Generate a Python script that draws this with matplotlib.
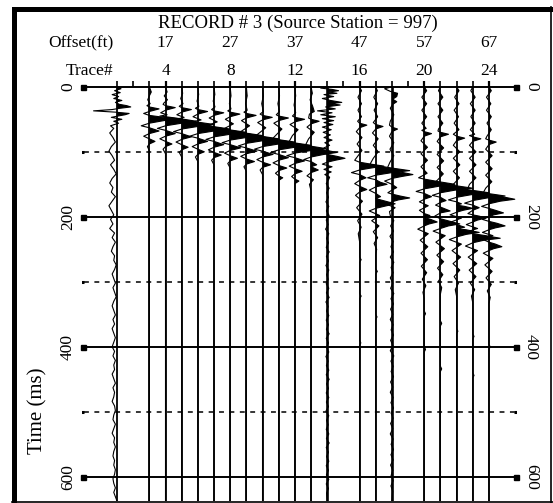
import matplotlib
matplotlib.use("Agg")
import matplotlib.pyplot as plt
import numpy as np

# ---------------- data ----------------
TITLE = "RECORD # 3 (Source Station = 997)"
LABEL_TRACES = [4, 8, 12, 16, 20, 24]
OFFSET_LABELS = ["17", "27", "37", "47", "57", "67"]
TRACE_LABELS = ["4", "8", "12", "16", "20", "24"]
ALL_TRACES = list(range(1, 25))
DEAD_TRACES = [2, 15, 19]
BOLD_TRACES = [14, 18]
TIME_TICKS = [0, 200, 400, 600]
TIME_DASHED = [100, 300, 500]

# wiggle vertices per trace: (time ms, amplitude in trace spacings)
TR01 = [(0, 0), (3, 0.25), (6, -0.15), (9, 0.2), (12, -0.3), (15, 0.1), (18, -0.2), (21, 0.3),
        (24, -0.1), (27, 0.15), (29, 0.6), (31, 0.85), (33, 0.2), (35, -0.3), (37, -1.45), (39, -0.1),
        (41, 0.75), (43, 0.5), (45, 0.05), (47, -0.35), (50, 0.3), (53, -0.2), (56, 0.1), (60, -0.4)]
TR01_TAIL = (64, 7, [-0.2, -0.45, -0.25, -0.1, -0.35, -0.5, -0.3, -0.15, -0.4, -0.2, -0.05, -0.3,
                     -0.45, -0.25, -0.35, -0.1, -0.3, -0.5, -0.35, -0.2, -0.4, -0.25, -0.45, -0.15,
                     -0.3, -0.1, -0.25, -0.35, -0.15, -0.2, -0.05, -0.15, -0.3, -0.2, -0.1, -0.25,
                     -0.15, -0.05, -0.2, -0.3, -0.2, -0.1, -0.25, -0.15, -0.3, -0.2, -0.1, -0.2,
                     -0.3, -0.15, -0.25, -0.1, -0.2, -0.15, -0.3, -0.2, -0.1, -0.25, -0.15, -0.2,
                     -0.3, -0.15, -0.1, -0.2, -0.25, -0.1, -0.2, -0.3, -0.15, -0.2, -0.1, -0.2,
                     -0.25, -0.15, -0.2, -0.1, -0.15, -0.25, -0.2, -0.1, -0.2])
TR03 = [(0, 0), (8, 0.12), (14, 0), (20, -0.1), (26, 0.05), (29, -0.15), (31, 0), (34, 0.6), (38, 0),
        (41, -0.35), (44, 0), (47, 0.9), (49, 1.8), (52, 0.9), (56, 0), (60, -0.5), (63, 0),
        (68, 0.6), (72, 0), (76, -0.35), (80, 0), (84, 0.35), (88, 0), (92, -0.12), (98, 0)]
TR04 = [(0, 0), (8, 0.1), (14, -0.08), (20, 0.12), (25, -0.1), (27, -0.15), (29, 0), (32, 0.6),
        (36, 0), (40, -0.3), (43, 0.1), (45, -0.35), (46, 0), (49, 0.9), (53, 1.9), (56, 1.0),
        (60, 0), (64, -0.5), (67, 0), (72, 0.6), (76, 0), (80, -0.35), (84, 0), (88, 0.4), (92, 0),
        (96, -0.15), (103, 0)]
TR05 = [(0, 0), (10, 0.06), (18, -0.06), (26, 0.08), (30, -0.15), (32, 0), (35, 0.6), (39, 0),
        (43, -0.3), (47, 0.15), (50, -0.35), (51, 0), (54, 0.9), (58, 2.0), (61, 1.0), (65, 0),
        (69, -0.5), (72, 0), (77, 0.6), (81, 0), (85, -0.35), (89, 0), (93, 0.4), (97, 0),
        (101, -0.15), (108, 0)]
TR06 = [(0, 0), (12, 0.05), (22, -0.05), (30, 0.06), (33, -0.15), (35, 0), (38, 0.6), (42, 0),
        (46, -0.3), (51, 0.2), (54, -0.35), (57, 0), (61, 0.9), (65, 2.0), (68, 1.0), (72, 0),
        (76, -0.5), (79, 0), (84, 0.6), (88, 0), (92, -0.35), (96, 0), (100, 0.4), (104, 0),
        (108, -0.15), (115, 0)]
TR07 = [(0, 0), (12, 0.05), (22, -0.05), (31, 0.06), (35, -0.15), (37, 0), (40, 0.6), (44, 0),
        (48, -0.3), (54, 0.2), (59, -0.35), (62, 0), (66, 0.9), (70, 2.0), (73, 1.0), (77, 0),
        (81, -0.5), (84, 0), (89, 0.6), (93, 0), (97, -0.35), (101, 0), (105, 0.45), (109, 0),
        (113, -0.15), (120, 0)]
TR08 = [(0, 0), (14, 0.05), (26, -0.05), (34, 0.05), (37, -0.15), (39, 0), (42, 0.6), (46, 0),
        (50, -0.3), (57, 0.2), (64, -0.35), (67, 0), (71, 0.9), (75, 2.0), (78, 1.0), (82, 0),
        (86, -0.5), (89, 0), (94, 0.65), (98, 0), (102, -0.35), (106, 0), (110, 0.45), (114, 0),
        (118, -0.15), (125, 0)]
TR09 = [(0, 0), (14, 0.05), (26, -0.05), (36, 0.05), (39, -0.15), (41, 0), (44, 0.6), (48, 0),
        (52, -0.3), (60, 0.2), (69, -0.35), (72, 0), (76, 0.9), (80, 2.0), (83, 1.0), (87, 0),
        (91, -0.5), (94, 0), (99, 0.65), (103, 0), (107, -0.35), (111, 0), (115, 0.5), (119, 0),
        (123, -0.15), (130, 0)]
TR10 = [(0, 0), (14, 0.05), (26, -0.05), (38, 0.05), (42, -0.15), (44, 0), (47, 0.6), (51, 0),
        (55, -0.3), (63, 0.2), (74, -0.35), (77, 0), (81, 0.9), (85, 2.0), (88, 1.0), (92, 0),
        (96, -0.5), (99, 0), (104, 0.65), (108, 0), (112, -0.35), (116, 0), (120, 0.5), (124, 0),
        (128, -0.15), (135, 0)]
TR11 = [(0, 0), (14, 0.05), (26, -0.05), (38, 0.05), (43, -0.15), (45, 0), (48, 0.6), (52, 0),
        (56, -0.3), (65, 0.2), (79, -0.35), (82, 0), (86, 0.9), (90, 2.0), (93, 1.0), (97, 0),
        (101, -0.5), (104, 0), (109, 0.6), (113, 0), (117, -0.35), (121, 0), (125, 0.5), (129, 0),
        (133, -0.2), (137, 0), (140, 0.25), (144, 0), (150, 0)]
TR12 = [(0, 0), (14, 0.05), (28, -0.05), (40, 0.05), (45, -0.15), (47, 0), (50, 0.6), (54, 0),
        (58, -0.3), (66, 0.2), (75, -0.15), (84, -0.35), (87, 0), (91, 0.9), (95, 1.9), (98, 1.0),
        (102, 0), (106, -0.5), (109, 0), (114, 0.6), (118, 0), (122, -0.35), (126, 0), (130, 0.45),
        (134, 0), (138, -0.2), (142, 0), (145, 0.25), (149, 0), (155, 0)]
TR13 = [(0, 0), (10, 0.08), (20, -0.06), (30, 0.1), (38, 0.2), (42, -0.1), (48, -0.15), (50, 0),
        (53, 0.5), (57, 0), (62, -0.25), (70, 0.2), (80, -0.15), (90, -0.35), (93, 0), (97, 0.8),
        (101, 1.6), (104, 0.8), (108, 0), (112, -0.45), (115, 0), (120, 0.35), (123, 0), (128, 0.45),
        (132, 0), (137, -0.25), (143, 0.15), (150, -0.1), (160, 0)]
TR14 = [(0, 0), (2, -0.4), (4, 0.3), (6, 0.7), (8, 0.1), (10, 0.6), (12, -0.2), (15, 0.4), (18, -0.3),
        (21, 0.2), (24, 0.9), (26, 0.2), (28, 0.8), (31, -0.1), (34, 0.5), (37, -0.6), (40, 0.3),
        (43, -0.4), (46, 0.5), (49, -0.3), (52, 0.4), (55, -0.2), (58, 0.35), (62, -0.3), (66, 0.25),
        (70, -0.25), (74, 0.2), (78, -0.2), (82, 0.3), (86, -0.15), (90, 0.15), (94, -0.2), (98, 0.1),
        (101, -0.3), (104, 0), (107, 0.6), (110, 1.1), (113, 0.5), (116, 0), (119, -0.3), (123, 0.3),
        (127, -0.2), (131, 0.25), (135, -0.15), (139, 0.15)]
TR14_TAIL = (142, 7, [0.1, -0.06, 0.12, -0.04, 0.08, -0.08, 0.1, -0.05, 0.12, -0.06, 0.06, -0.1,
                      0.1, -0.04, 0.08, -0.06, 0.12, -0.05, 0.08, -0.08, 0.1, -0.04, 0.06, -0.06,
                      0.1, -0.05, 0.12, -0.08, 0.06, -0.04, 0.1, -0.06, 0.08, -0.05, 0.12, -0.06,
                      0.08, -0.04, 0.1, -0.08, 0.06, -0.05, 0.1, -0.06, 0.12, -0.04, 0.08, -0.06,
                      0.1, -0.05, 0.08, -0.08, 0.1, -0.04, 0.06, -0.06, 0.1, -0.05, 0.12, -0.06,
                      0.08, -0.04, 0.1, -0.06, 0.08, -0.05, 0.1, -0.06, 0.08, -0.04])
TR16 = [(0, 0), (6, 0.12), (16, -0.1), (26, 0.12), (36, -0.1), (46, 0.12), (53, -0.12), (56, 0),
        (59, 0.45), (63, 0), (69, -0.2), (78, 0.15), (88, -0.15), (98, 0.15), (108, -0.15),
        (113, -0.3), (116, 0), (119, 0.7), (122, 1.5), (125, 0.7), (128, 0), (132, -0.5), (135, 0),
        (140, 0.4), (144, 0), (149, -0.3), (153, 0), (158, 0.45), (162, 0), (167, -0.25),
        (176, 0.18), (186, -0.18), (196, 0.15), (206, -0.12), (216, 0.1), (226, -0.08), (238, 0),
        (262, 0), (266, 0.1), (270, 0), (318, 0), (322, 0.1), (326, 0), (390, 0), (394, 0.08),
        (398, 0)]
TR17 = [(0, 0), (6, 0.1), (16, -0.12), (26, 0.12), (36, -0.1), (46, 0.12), (55, -0.15), (58, 0),
        (61, 0.45), (65, 0), (71, -0.2), (80, 0.15), (90, -0.15), (100, 0.15), (110, -0.15),
        (119, -0.35), (121, 0), (125, 1.0), (129, 2.1), (132, 1.0), (136, 0), (140, -0.5), (143, 0),
        (147, 0.3), (150, 0.7), (154, 0), (159, -0.4), (164, 0), (169, 0.3), (172, 0), (176, 0.6),
        (180, 1.2), (184, 0.5), (187, 0), (191, -0.4), (198, 0.25), (206, -0.25), (214, 0.2),
        (223, -0.15), (232, 0.12), (241, -0.1), (250, 0.06), (258, 0), (280, 0), (284, 0.1),
        (288, 0), (350, 0), (354, 0.08), (358, 0)]
TR18 = [(0, 0), (3, -0.45), (7, -0.1), (10, 0.35), (15, 0.3), (19, 0.05), (23, 0.3), (27, 0.05),
        (33, -0.1), (43, 0.12), (53, -0.1), (59, -0.15), (62, 0), (65, 0.35), (69, 0), (76, -0.15),
        (86, 0.12), (96, -0.12), (106, 0.12), (116, -0.12), (126, -0.3), (129, 0), (132, 0.7),
        (135, 1.3), (138, 0.6), (141, 0), (145, -0.45), (150, 0), (155, 0.3), (159, 0), (163, -0.25),
        (165, 0), (168, 0.5), (171, 1.1), (174, 0.4), (177, 0), (181, -0.3), (186, 0.2),
        (192, -0.15)]
TR18_TAIL = (198, 8, [-0.1, 0.12, -0.08, 0.1, -0.12, 0.08, -0.06, 0.1, -0.1, 0.12, -0.05, 0.08,
                      -0.1, 0.06, -0.08, 0.12, -0.06, 0.1, -0.08, 0.06, -0.1, 0.08, -0.05, 0.1,
                      -0.08, 0.06, -0.1, 0.12, -0.06, 0.08, -0.05, 0.1, -0.08, 0.06, -0.1, 0.08,
                      -0.06, 0.1, -0.05, 0.08, -0.08, 0.06, -0.1, 0.08, -0.05, 0.1, -0.06, 0.08,
                      -0.08, 0.06, -0.05, 0.08, -0.06, 0.05])
TR20 = [(0, 0), (6, 0.15), (16, -0.15), (26, 0.15), (36, -0.15), (46, 0.15), (56, -0.15), (64, 0.12),
        (67, -0.15), (69, 0), (72, 0.45), (76, 0), (83, -0.2), (93, 0.2), (103, -0.2), (113, 0.2),
        (123, -0.2), (133, 0.18), (140, -0.35), (142, 0), (146, 0.9), (150, 1.9), (153, 0.9),
        (157, 0), (161, -0.5), (164, 0), (169, 0.45), (173, 0), (177, -0.3), (183, 0.25), (190, -0.3),
        (195, 0), (198, 0.35), (201, 0), (204, 0.4), (208, 0.8), (211, 0.3), (214, 0), (219, -0.4),
        (226, 0.25), (236, -0.25), (246, 0.22), (256, -0.2), (266, 0.2), (276, -0.18), (286, 0.15),
        (296, -0.12), (306, 0.1), (316, -0.08), (326, 0), (345, 0), (349, 0.08), (353, 0), (400, 0),
        (404, 0.08), (408, 0)]
TR21 = [(0, 0), (6, -0.12), (16, 0.15), (26, -0.15), (36, 0.15), (46, -0.15), (56, 0.15),
        (65, -0.12), (68, -0.15), (70, 0), (73, 0.5), (77, 0), (84, -0.2), (94, 0.2), (104, -0.2),
        (114, 0.2), (124, -0.2), (134, 0.18), (144, -0.2), (147, -0.35), (149, 0), (152, 0.9),
        (156, 2.0), (159, 0.9), (163, 0), (167, -0.5), (170, 0), (175, 0.35), (178, 0), (182, -0.3),
        (185, 0), (188, 0.3), (191, 0.6), (194, 0), (199, -0.35), (203, 0), (207, 0.6), (211, 1.2),
        (214, 0.5), (218, 0), (222, -0.45), (229, 0.3), (239, -0.28), (249, 0.25), (259, -0.22),
        (269, 0.2), (279, -0.18), (289, 0.15), (299, -0.12), (309, 0.08), (319, 0), (360, 0),
        (364, 0.08), (368, 0), (430, 0), (434, 0.08), (438, 0)]
TR22 = [(0, 0), (6, 0.15), (16, -0.12), (26, 0.15), (36, -0.15), (46, 0.12), (56, -0.15), (66, 0.15),
        (73, -0.2), (76, 0), (79, 0.5), (83, 0), (90, -0.2), (100, 0.2), (110, -0.2), (120, 0.2),
        (130, -0.2), (140, 0.18), (150, -0.2), (154, -0.35), (156, 0), (159, 0.9), (163, 2.0),
        (166, 0.9), (170, 0), (174, -0.5), (177, 0), (180, 0.3), (182, 0), (184, 0.5), (187, 1.0),
        (190, 0.4), (193, 0), (197, -0.4), (202, 0.3), (208, -0.35), (212, 0), (216, 0.5), (218, 0),
        (220, 0.6), (224, 1.4), (227, 0.6), (231, 0), (235, -0.45), (242, 0.3), (252, -0.28),
        (262, 0.25), (272, -0.22), (282, 0.2), (292, -0.15), (302, 0.12), (312, -0.08), (322, 0),
        (372, 0), (376, 0.08), (380, 0)]
TR23 = [(0, 0), (6, -0.12), (16, 0.15), (26, -0.15), (36, 0.15), (46, -0.12), (56, 0.15),
        (66, -0.15), (73, 0.12), (75, -0.2), (77, 0), (80, 0.5), (84, 0), (90, -0.2), (100, 0.2),
        (110, -0.2), (120, 0.2), (130, -0.2), (140, 0.2), (150, -0.2), (159, -0.35), (161, 0),
        (164, 0.9), (168, 2.0), (171, 0.9), (175, 0), (179, -0.5), (182, 0), (186, 0.4), (190, 0),
        (195, -0.3), (197, 0), (199, 0.4), (202, 0.8), (205, 0.3), (208, 0), (212, -0.4), (218, 0.3),
        (223, -0.35), (226, 0), (229, 0.8), (233, 1.7), (236, 0.7), (240, 0), (245, -0.45),
        (252, 0.3), (262, -0.28), (272, 0.25), (282, -0.22), (292, 0.2), (302, -0.15), (312, 0.12),
        (322, -0.08), (332, 0), (380, 0), (384, 0.08), (388, 0), (440, 0), (444, 0.08), (448, 0)]
TR24 = [(0, 0), (6, 0.15), (16, -0.15), (26, 0.12), (36, -0.15), (46, 0.15), (56, -0.12), (66, 0.15),
        (76, -0.12), (80, -0.2), (82, 0), (85, 0.45), (89, 0), (96, -0.2), (106, 0.2), (116, -0.2),
        (126, 0.2), (136, -0.2), (146, 0.18), (156, -0.2), (163, -0.35), (166, 0), (169, 0.8),
        (173, 1.6), (176, 0.7), (180, 0), (184, -0.45), (187, 0), (190, 0.4), (194, 0.9), (197, 0.3),
        (200, 0), (204, -0.4), (207, 0), (210, 0.5), (214, 1.0), (217, 0.4), (220, 0), (224, -0.4),
        (229, 0.25), (235, -0.35), (239, 0), (242, 0.4), (246, 0.8), (249, 0.3), (252, 0),
        (256, -0.35), (264, 0.25), (274, -0.25), (284, 0.2), (294, -0.18), (304, 0.15), (314, -0.1),
        (324, 0.08), (334, 0), (396, 0), (400, 0.08), (404, 0)]

WIGGLES = {1: TR01, 3: TR03, 4: TR04, 5: TR05, 6: TR06, 7: TR07, 8: TR08, 9: TR09, 10: TR10,
           11: TR11, 12: TR12, 13: TR13, 14: TR14, 16: TR16, 17: TR17, 18: TR18, 20: TR20,
           21: TR21, 22: TR22, 23: TR23, 24: TR24}
TAILS = {1: TR01_TAIL, 14: TR14_TAIL, 18: TR18_TAIL}

# ---------------- layout (pixels) ----------------
W, H = 553, 503
X_TR1, DX = 117.0, 16.17
Y_T0, PX_MS = 86.8, 0.650
AX_L, AX_R = 82.0, 517.0
T_TOP = -10.0
AX_B = 501.0
AX_T = Y_T0 + T_TOP * PX_MS


def xdata(px):
    return 1 + (px - X_TR1) / DX


XMIN, XMAX = xdata(AX_L), xdata(AX_R)
TMAX = (AX_B - Y_T0) / PX_MS

plt.rcParams['font.family'] = ['Liberation Serif', 'DejaVu Serif']
fig = plt.figure(figsize=(W / 100, H / 100), dpi=100)
fig.patch.set_facecolor('white')
ax = fig.add_axes([AX_L / W, 1 - AX_B / H, (AX_R - AX_L) / W, (AX_B - AX_T) / H])
ax.set_xlim(XMIN, XMAX)
ax.set_ylim(TMAX, T_TOP)
ax.axis('off')


def fx(px):
    return px / W


def fy(py):
    return 1 - py / H


# outer frame (shadow style)
frame = fig.add_axes([0, 0, 1, 1], zorder=-1)
frame.set_xlim(0, W)
frame.set_ylim(H, 0)
frame.axis('off')
frame.fill_between([12, 17], 7, 503, color='k', lw=0)
frame.fill_between([12, 553], 7, 12, color='k', lw=0)
frame.plot([550.5, 550.5], [7, 503], color='k', lw=1.2)
frame.plot([12, 553], [501.8, 501.8], color='k', lw=1.2)

# dashed grid lines
for t in TIME_DASHED:
    ax.plot([xdata(84), xdata(515)], [t, t], color='k', lw=1.1, ls=(0, (3.2, 3.6)), zorder=1)
    ax.plot([xdata(79), xdata(84)], [t, t], color='k', lw=2.2, solid_capstyle='butt', zorder=1)
    ax.plot([xdata(514), xdata(519)], [t, t], color='k', lw=2.2, solid_capstyle='butt', zorder=1)

# solid lines at 0/200/400/600
for t in TIME_TICKS:
    ax.plot([XMIN, XMAX], [t, t], color='k', lw=1.4, zorder=2, clip_on=False)
    ax.plot([xdata(AX_L + 1)], [t], marker='s', ms=3.6, color='k', zorder=3, clip_on=False)
    ax.plot([xdata(AX_R - 1)], [t], marker='s', ms=3.6, color='k', zorder=3, clip_on=False)

# ticks above top line
for n in ALL_TRACES:
    lw = 1.6 if n in LABEL_TRACES else 1.2
    ax.plot([n, n], [-9.0, 0], color='k', lw=lw, zorder=2, solid_capstyle='butt')

# traces
for n in ALL_TRACES:
    if n in DEAD_TRACES:
        continue
    pts = list(WIGGLES.get(n, []))
    if n in TAILS:
        t0, dt, vals = TAILS[n]
        pts += [(t0 + i * dt, v) for i, v in enumerate(vals)]
    t = np.array([p[0] for p in pts], dtype=float)
    a = np.array([p[1] for p in pts], dtype=float)
    t = np.append(t, TMAX)
    a = np.append(a, 0.0)
    base_lw = 1.9 if n in BOLD_TRACES else 1.3
    ax.plot([n, n], [0, TMAX], color='k', lw=base_lw, zorder=3)
    ax.fill_betweenx(t, n, n + a, where=a > 0, interpolate=True, color='k', lw=0, zorder=4)
    ax.plot(n + a, t, color='k', lw=0.8, zorder=5)

# text
fs = 12.5
fig.text(fx(298), fy(23), TITLE, ha='center', va='center', fontsize=13.5)
fig.text(fx(81), fy(43), "Offset(ft)", ha='center', va='center', fontsize=fs)
fig.text(fx(89), fy(71), "Trace#", ha='center', va='center', fontsize=fs)
for n, o, tr in zip(LABEL_TRACES, OFFSET_LABELS, TRACE_LABELS):
    px = X_TR1 + (n - 1) * DX
    fig.text(fx(px), fy(43), o, ha='center', va='center', fontsize=fs)
    fig.text(fx(px), fy(71), tr, ha='center', va='center', fontsize=fs)
for t in TIME_TICKS:
    py = Y_T0 + t * PX_MS
    fig.text(fx(68), fy(py), str(t), ha='center', va='center', rotation=90, fontsize=fs)
    fig.text(fx(531), fy(py), str(t), ha='center', va='center', rotation=270, fontsize=fs)
fig.text(fx(38), fy(411), "Time (ms)", ha='center', va='center', rotation=90, fontsize=15)

fig.savefig("out.png", dpi=100, facecolor='white')
